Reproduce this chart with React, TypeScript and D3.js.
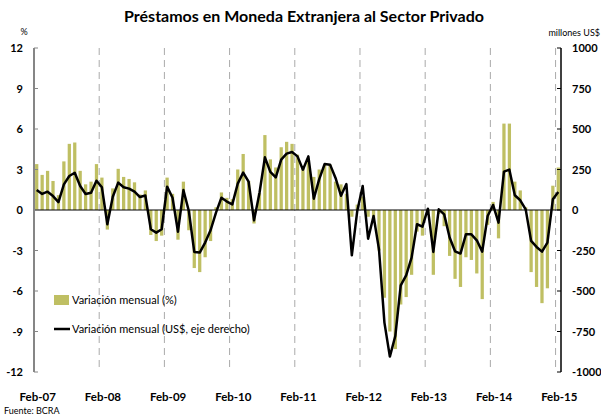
import React from "react";
import * as d3 from "d3";

// one entry per month, Feb-07 .. Feb-15
const months = d3.timeMonth.range(new Date(2007, 1, 1), new Date(2015, 2, 1));

const yearLabels = ["Feb-07", "Feb-08", "Feb-09", "Feb-10", "Feb-11", "Feb-12", "Feb-13", "Feb-14", "Feb-15"];

// Variación mensual (%)
const pctChange = [
  3.4, 2.6, 2.9, 2.15, 1.1, 3.6, 4.9, 5.0, 2.9, 1.9, 2.1, 3.4,
  2.4, -1.45, 1.6, 3.05, 2.45, 2.3, 2.05, 1.15, 1.45, -1.85, -2.3, -1.9,
  2.4, 1.2, -2.2, 2.1, -1.5, -4.3, -4.6, -3.5, -2.3, 0.2, 1.3, 0.9,
  0.8, 3.0, 4.15, 2.15, -1.0, 1.25, 5.55, 3.75, 3.15, 4.65, 5.05, 4.9,
  4.1, 3.25, 3.65, 2.45, 3.0, 3.35, 3.35, 2.1, 1.9, 1.2, -0.5, 0.4,
  1.0, -0.5, -0.7, -3.0, -6.5, -9.0, -10.3, -7.0, -6.45, -4.8, -1.6, -1.9,
  -0.2, -4.8, -0.3, -1.2, -3.4, -5.1, -5.7, -3.5, -3.7, -4.7, -6.6, -1.1,
  0.6, -2.1, 6.4, 6.4, 2.1, 1.45, 0.2, -4.6, -5.7, -6.9, -5.8, 1.8,
  3.15,
];

// Variación mensual (millones US$, eje derecho)
const usdChange = [
  123, 99, 113, 86, 49, 158, 210, 230, 148, 99, 107, 181,
  140, -88, 82, 169, 140, 132, 113, 80, 89, -119, -140, -119,
  144, 76, -134, 123, -6, -259, -263, -201, -125, -16, 76, 52,
  35, 163, 231, 175, -64, 105, 325, 235, 201, 311, 348, 358,
  331, 249, 331, 70, 191, 284, 280, 198, 88, 160, -280, -6,
  148, -177, -37, -243, -695, -905, -778, -465, -403, -294, -88, -103,
  8, -259, 4, -27, -170, -255, -269, -150, -150, -187, -257, -37,
  31, -78, 237, 249, 91, 60, 4, -191, -228, -257, -201, 66,
  111,
];

const leftTicks = [12, 9, 6, 3, 0, -3, -6, -9, -12];
const rightTicks = [1000, 750, 500, 250, 0, -250, -500, -750, -1000];

const barColor = "#bfbf63";
const font = "Lato, 'Open Sans', sans-serif";

export default function App() {
  const width = 601;
  const height = 419;
  const left = 34;
  const right = 561;
  const top = 48;
  const bottom = 372;

  const x = d3
    .scaleBand<number>()
    .domain(d3.range(months.length))
    .range([left, right])
    .paddingInner(0.4)
    .paddingOuter(0.2);
  const half = x.bandwidth() / 2;
  const gap = (x.step() - x.bandwidth()) / 2;
  const cx = (i: number) => (x(i) as number) + half;

  const yL = d3.scaleLinear().domain([-12, 12]).range([bottom, top]);
  const yR = d3.scaleLinear().domain([-1000, 1000]).range([bottom, top]);

  const line = d3
    .line<number>()
    .x((d, i) => cx(i))
    .y((d) => yR(d));

  const febIdx = months.map((d, i) => i).filter((i) => months[i].getMonth() === 1);

  return (
    <svg
      width={width}
      height={height}
      style={{ position: "absolute", left: 0, top: 0, background: "#fff" }}
      fontFamily={font}
    >
      <text x={304} y={22} textAnchor="middle" fontSize={16} fontWeight="bold">
        Préstamos en Moneda Extranjera al Sector Privado
      </text>
      <text x={24} y={35} textAnchor="middle" fontSize={9}>%</text>
      <text x={600} y={36} textAnchor="end" fontSize={9}>millones US$</text>

      {/* dashed year separators */}
      {febIdx.slice(1).map((i) => (
        <line
          key={i}
          x1={(x(i) as number) - gap}
          x2={(x(i) as number) - gap}
          y1={top}
          y2={bottom}
          stroke="#aaaaaa"
          strokeWidth={1}
          strokeDasharray="7,5"
        />
      ))}

      {pctChange.map((v, i) => (
        <rect
          key={i}
          x={x(i)}
          width={x.bandwidth()}
          y={yL(Math.max(0, v))}
          height={Math.abs(yL(v) - yL(0))}
          fill={barColor}
        />
      ))}

      <line x1={left} x2={right} y1={yL(0)} y2={yL(0)} stroke="#000" strokeWidth={1} />

      <path d={line(usdChange) || ""} fill="none" stroke="#000" strokeWidth={2.5} strokeLinejoin="round" />

      {/* left axis */}
      <line x1={left} x2={left} y1={top} y2={bottom} stroke="#868686" strokeWidth={2} />
      {leftTicks.map((t) => (
        <g key={t}>
          <line x1={left} x2={left + 4} y1={yL(t)} y2={yL(t)} stroke="#868686" strokeWidth={1} />
          <text x={23} y={yL(t) + 4} textAnchor="end" fontSize={11} fontWeight="bold">
            {t}
          </text>
        </g>
      ))}

      {/* right axis */}
      <line x1={right} x2={right} y1={top} y2={bottom} stroke="#000" strokeWidth={1.5} />
      {rightTicks.map((t) => (
        <g key={t}>
          <line x1={right - 4} x2={right} y1={yR(t)} y2={yR(t)} stroke="#000" strokeWidth={1} />
          <text x={572} y={yR(t) + 4} fontSize={11} fontWeight="bold">
            {t}
          </text>
        </g>
      ))}

      {febIdx.map((i, k) => (
        <text key={i} x={cx(i) + 1} y={401} textAnchor="middle" fontSize={11.5} fontWeight="bold">
          {yearLabels[k]}
        </text>
      ))}

      {/* legend */}
      <rect x={54} y={295} width={15} height={10} fill={barColor} />
      <text x={72} y={304} fontSize={11}>Variación mensual (%)</text>
      <line x1={54} x2={70} y1={329} y2={329} stroke="#000" strokeWidth={2.5} />
      <text x={72} y={333} fontSize={11}>Variación mensual (US$, eje derecho)</text>

      <text x={4} y={414} fontSize={9}>Fuente: BCRA</text>
    </svg>
  );
}
